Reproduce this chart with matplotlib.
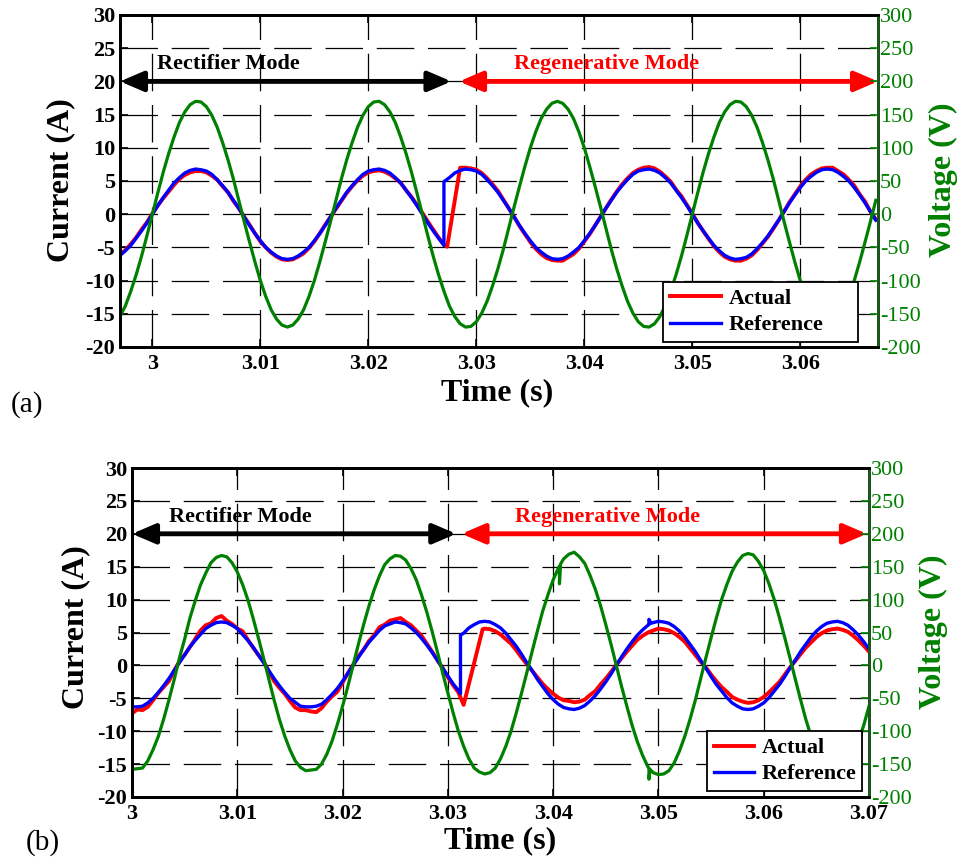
import numpy as np
import matplotlib
matplotlib.use('Agg')
import matplotlib.pyplot as plt
from matplotlib.patches import ArrowStyle

plt.rcParams['font.family'] = ['Liberation Serif', 'DejaVu Serif']

GREEN = '#008000'

# ---- (a) records, 0.5 ms step from 2.997 s ----
t_a = np.round(2.997 + 0.0005 * np.arange(141), 5)

v_a = [-154, -138, -116, -91, -63, -32, 0, 32, 63, 91,
       116, 138, 154, 165, 170, 169, 162, 149, 131, 108,
       82, 53, 21, -11, -42, -72, -100, -124, -144, -158,
       -167, -170, -167, -158, -144, -124, -100, -72, -42, -11,
       21, 53, 82, 108, 131, 149, 162, 169, 170, 165,
       154, 138, 116, 91, 63, 32, 0, -32, -63, -91,
       -116, -138, -154, -165, -170, -169, -162, -149, -131, -108,
       -82, -53, -21, 11, 42, 72, 100, 124, 144, 158,
       167, 170, 167, 158, 144, 124, 100, 72, 42, 11,
       -21, -53, -82, -108, -131, -149, -162, -169, -170, -165,
       -154, -138, -116, -91, -63, -32, 0, 32, 63, 91,
       116, 138, 154, 165, 170, 169, 162, 149, 131, 108,
       82, 53, 21, -11, -42, -72, -100, -124, -144, -158,
       -167, -170, -167, -158, -144, -124, -100, -72, -42, -11,
       21]

ref_a = [-6.2, -5.5, -4.7, -3.6, -2.5, -1.3, 0.0, 1.3, 2.5, 3.6,
         4.7, 5.5, 6.2, 6.6, 6.8, 6.7, 6.5, 6.0, 5.2, 4.3,
         3.3, 2.1, 0.9, -0.4, -1.7, -2.9, -4.0, -5.0, -5.7, -6.3,
         -6.7, -6.8, -6.7, -6.3, -5.7, -5.0, -4.0, -2.9, -1.7, -0.4,
         0.9, 2.1, 3.3, 4.3, 5.2, 6.0, 6.5, 6.7, 6.8, 6.6,
         6.2, 5.5, 4.7, 3.6, 2.5, 1.3, 0.0, -1.3, -2.5, -3.6,
         -4.7, 5.5, 6.2, 6.6, 6.8, 6.7, 6.5, 6.0, 5.2, 4.3,
         3.3, 2.1, 0.9, -0.4, -1.7, -2.9, -4.0, -5.0, -5.7, -6.3,
         -6.7, -6.8, -6.7, -6.3, -5.7, -5.0, -4.0, -2.9, -1.7, -0.4,
         0.9, 2.1, 3.3, 4.3, 5.2, 6.0, 6.5, 6.7, 6.8, 6.6,
         6.2, 5.5, 4.7, 3.6, 2.5, 1.3, 0.0, -1.3, -2.5, -3.6,
         -4.7, -5.5, -6.2, -6.6, -6.8, -6.7, -6.5, -6.0, -5.2, -4.3,
         -3.3, -2.1, -0.9, 0.4, 1.7, 2.9, 4.0, 5.0, 5.7, 6.3,
         6.7, 6.8, 6.7, 6.3, 5.7, 5.0, 4.0, 2.9, 1.7, 0.4,
         -0.9]
ref_a_t_extra = [3.027]
ref_a_extra = [4.9]

act_a = [-6.1, -5.4, -4.5, -3.5, -2.3, -1.2, 0.1, 1.3, 2.4, 3.4,
         4.4, 5.3, 5.9, 6.3, 6.5, 6.5, 6.3, 5.8, 5.2, 4.2,
         3.3, 2.0, 0.9, -0.4, -1.6, -2.9, -4.1, -5.0, -5.8, -6.4,
         -6.8, -6.9, -6.8, -6.4, -5.9, -5.1, -4.1, -2.9, -1.6, -0.4,
         0.8, 2.0, 3.2, 4.2, 5.1, 5.8, 6.3, 6.5, 6.6, 6.4,
         6.0, 5.4, 4.7, 3.6, 2.6, 1.4, 0.2, -1.1, -2.3, -3.5,
         -4.6, -2.9, 2.0, 7.0, 7.0, 6.9, 6.7, 6.2, 5.4, 4.5,
         3.5, 2.2, 0.9, -0.4, -1.8, -3.0, -4.2, -5.2, -6.0, -6.6,
         -6.9, -7.0, -7.0, -6.5, -6.0, -5.2, -4.1, -3.0, -1.7, -0.4,
         0.9, 2.2, 3.4, 4.5, 5.4, 6.2, 6.7, 7.0, 7.1, 6.9,
         6.4, 5.7, 4.9, 3.7, 2.7, 1.4, 0.1, -1.3, -2.5, -3.7,
         -4.8, -5.7, -6.4, -6.8, -7.0, -7.0, -6.7, -6.2, -5.4, -4.4,
         -3.4, -2.2, -0.9, 0.4, 1.8, 3.0, 4.2, 5.2, 6.0, 6.5,
         6.9, 7.0, 7.0, 6.5, 6.0, 5.2, 4.3, 3.0, 1.9, 0.4,
         -0.8]
act_a_t_extra = [3.0273]
act_a_extra = [-4.9]

# ---- (b) records, 0.5 ms step from 3.000 s ----
t_b = np.round(3.000 + 0.0005 * np.arange(141), 5)

v_b = [-158, -157, -156, -145, -128, -108, -82, -53, -22, 11,
       40, 72, 98, 122, 140, 156, 164, 167, 165, 156,
       142, 123, 100, 72, 42, 11, -21, -53, -82, -107,
       -128, -145, -155, -160, -159, -158, -150, -135, -115, -90,
       -62, -32, 0, 32, 62, 90, 115, 136, 153, 162,
       167, 166, 160, 147, 130, 107, 81, 52, 21, -11,
       -42, -72, -100, -123, -142, -156, -162, -165, -163, -156,
       -142, -123, -100, -72, -42, -11, 21, 52, 82, 107,
       130, 148, 162, 169, 172, 165, 155, 137, 116, 91,
       62, 32, 0, -32, -62, -91, -116, -137, -154, -163,
       -166, -165, -160, -148, -130, -108, -82, -53, -21, 11,
       42, 72, 100, 123, 143, 157, 167, 170, 168, 158,
       144, 124, 100, 72, 42, 11, -21, -52, -82, -108,
       -131, -148, -162, -166, -168, -165, -154, -137, -116, -91,
       -62]
v_b_t_extra = [3.0406, 3.0406, 3.0407, 3.0491, 3.0491, 3.0492]
v_b_extra = [151, 124, 154, -156, -173, -158]

ref_b = [-6.3, -6.3, -6.2, -5.7, -5.0, -4.1, -3.1, -2.0, -0.8, 0.4,
         1.6, 2.8, 3.8, 4.7, 5.6, 6.1, 6.5, 6.6, 6.5, 6.1,
         5.6, 4.7, 3.8, 2.8, 1.6, 0.4, -0.8, -2.0, -3.1, -4.1,
         -5.0, -5.6, -6.2, -6.3, -6.3, -6.2, -5.9, -5.2, -4.4, -3.5,
         -2.4, -1.2, 0.0, 1.2, 2.4, 3.5, 4.4, 5.3, 6.0, 6.3,
         6.6, 6.5, 6.3, 5.7, 5.0, 4.1, 3.1, 2.0, 0.8, -0.4,
         -1.6, -2.8, -3.8, 4.9, 5.7, 6.2, 6.6, 6.7, 6.6, 6.2,
         5.7, 4.9, 3.9, 2.9, 1.7, 0.4, -0.8, -2.1, -3.2, -4.3,
         -5.2, -5.9, -6.4, -6.6, -6.7, -6.5, -6.1, -5.4, -4.6, -3.6,
         -2.5, -1.3, 0.0, 1.3, 2.5, 3.6, 4.6, 5.4, 6.1, 6.5,
         6.7, 6.6, 6.4, 5.9, 5.2, 4.3, 3.2, 2.1, 0.8, -0.4,
         -1.7, -2.9, -3.9, -4.9, -5.7, -6.2, -6.6, -6.7, -6.6, -6.2,
         -5.7, -4.9, -3.9, -2.9, -1.7, -0.4, 0.8, 2.1, 3.2, 4.3,
         5.2, 5.9, 6.4, 6.6, 6.7, 6.5, 6.1, 5.4, 4.6, 3.6,
         2.5]
ref_b_t_extra = [3.0312, 3.0312, 3.0491, 3.0491, 3.0493]
ref_b_extra = [-4.3, 4.6, 6.2, 7.0, 6.4]

act_b = [-7.3, -6.7, -6.8, -6.3, -5.3, -4.2, -3.3, -2.4, -0.8, 0.6,
         1.6, 2.8, 4.0, 5.3, 6.1, 6.4, 7.2, 7.5, 6.8, 6.3,
         5.6, 5.2, 3.9, 2.7, 1.6, 0.6, -0.9, -2.4, -3.4, -4.3,
         -5.4, -6.4, -6.8, -6.8, -7.0, -7.1, -6.5, -5.5, -4.7, -4.0,
         -2.6, -1.2, 0.1, 1.4, 2.4, 3.7, 4.6, 5.8, 6.2, 6.8,
         7.0, 7.2, 6.6, 6.1, 5.3, 4.5, 3.3, 2.1, 0.8, -0.4,
         -1.8, -3.0, -4.1, -6.0, -2.8, 0.4, 3.6, 5.6, 5.5, 5.2,
         4.7, 4.0, 3.3, 2.3, 1.2, 0.2, -0.8, -1.8, -2.8, -3.6,
         -4.3, -4.9, -5.3, -5.4, -5.6, -5.5, -5.2, -4.5, -3.9, -2.9,
         -2.0, -1.0, 0.1, 1.1, 2.1, 3.0, 3.9, 4.5, 5.0, 5.3,
         5.6, 5.5, 5.3, 4.9, 4.3, 3.6, 2.6, 1.6, 0.6, -0.3,
         -1.4, -2.4, -3.3, -4.0, -4.8, -5.2, -5.5, -5.7, -5.6, -5.3,
         -4.8, -4.1, -3.3, -2.5, -1.4, -0.3, 0.7, 1.7, 2.7, 3.5,
         4.3, 4.9, 5.3, 5.5, 5.6, 5.4, 5.1, 4.5, 3.8, 3.0,
         2.1]
act_b_t_extra = [3.0333]
act_b_extra = [5.5]

xticks_a = [3.00, 3.01, 3.02, 3.03, 3.04, 3.05, 3.06]
xlabels_a = ['3', '3.01', '3.02', '3.03', '3.04', '3.05', '3.06']
xticks_b = [3.00, 3.01, 3.02, 3.03, 3.04, 3.05, 3.06, 3.07]
xlabels_b = ['3', '3.01', '3.02', '3.03', '3.04', '3.05', '3.06', '3.07']
current_ticks = [-20, -15, -10, -5, 0, 5, 10, 15, 20, 25, 30]
voltage_ticks = [-200, -150, -100, -50, 0, 50, 100, 150, 200, 250, 300]


def merged(t, y, t_extra, y_extra):
    """Slot extra samples (switching edges, spikes) into a fixed-step record."""
    tt = np.concatenate([np.asarray(t, float), np.asarray(t_extra, float)])
    yy = np.concatenate([np.asarray(y, float), np.asarray(y_extra, float)])
    order = np.argsort(tt, kind='stable')
    return tt[order], yy[order]


def mode_arrow(ax, x0, x1, color):
    style = ArrowStyle('<|-|>', head_length=0.7, head_width=0.3)
    ax.annotate('', xy=(x1, 20), xytext=(x0, 20),
                arrowprops=dict(arrowstyle=style, color=color, lw=3.5,
                                mutation_scale=20, shrinkA=0, shrinkB=0),
                annotation_clip=False, zorder=6)


def draw_panel(rect, xlim, xticks, xlabels, act, ref, volt,
               modes, text_pos, leg_box, handlelength):
    ax = fig.add_axes(rect)
    ax2 = ax.twinx()

    la, = ax.plot(*act, color='red', lw=2.8, label='Actual', zorder=3)
    lr, = ax.plot(*ref, color='blue', lw=2.4, label='Reference', zorder=4)
    ax2.plot(*volt, color=GREEN, lw=2.3, zorder=2)

    ax.set_xlim(*xlim)
    ax.set_ylim(-20, 30)
    ax2.set_ylim(-200, 300)
    ax.set_xticks(xticks)
    ax.set_xticklabels(xlabels, fontweight='bold')
    ax.set_yticks(current_ticks)
    ax.set_yticklabels([str(v) for v in current_ticks], fontweight='bold')
    ax2.set_yticks(voltage_ticks)
    ax2.set_yticklabels([str(v) for v in voltage_ticks])

    ax.tick_params(axis='both', direction='in', length=6, width=1.2,
                   labelsize=16, top=True)
    ax.tick_params(axis='x', pad=5)
    ax.tick_params(axis='y', pad=3.5)
    ax2.tick_params(axis='y', direction='in', length=6, width=1.2,
                    labelsize=16, colors=GREEN, pad=1.5)

    ax.grid(True, color='black', lw=0.9, linestyle=(0, (30, 11)))
    for s in ['left', 'bottom', 'top', 'right']:
        ax.spines[s].set_linewidth(2)
        ax2.spines[s].set_linewidth(2)
    ax2.spines['right'].set_color('#1d5a1d')

    # operating mode markers
    (r0, r1), (g0, g1) = modes
    mode_arrow(ax, r0, r1, 'black')
    mode_arrow(ax, g0, g1, 'red')
    ax.text(text_pos[0], 22.6, 'Rectifier Mode', fontsize=16,
            fontweight='bold', color='black', va='center', zorder=6)
    ax.text(text_pos[1], 22.6, 'Regenerative Mode', fontsize=16,
            fontweight='bold', color='red', va='center', zorder=6)

    leg = ax2.legend([la, lr], ['Actual', 'Reference'], loc='lower left',
                     bbox_to_anchor=leg_box, mode='expand',
                     borderaxespad=0, fancybox=False, framealpha=1,
                     edgecolor='black', handlelength=handlelength,
                     handletextpad=0.35, labelspacing=0.25, borderpad=0.3,
                     prop={'weight': 'bold', 'size': 16})
    leg.get_frame().set_linewidth(1.3)
    return ax


W, H = 962, 860
fig = plt.figure(figsize=(W / 100, H / 100), dpi=100)


def fx(px):
    return px / W


def fy(py):
    return 1 - py / H


draw_panel([fx(120), fy(347), fx(758), 332 / H], (2.997, 3.0672),
           xticks_a, xlabels_a,
           merged(t_a, act_a, act_a_t_extra, act_a_extra),
           merged(t_a, ref_a, ref_a_t_extra, ref_a_extra),
           (t_a, v_a),
           [(2.997, 3.0277), (3.0284, 3.0672)], (3.0004, 3.0335),
           (0.7164, 0.015, 0.2573, 0.19), 2.3)

draw_panel([fx(132), fy(797), fx(737), 329 / H], (3.0, 3.07),
           xticks_b, xlabels_b,
           merged(t_b, act_b, act_b_t_extra, act_b_extra),
           merged(t_b, ref_b, ref_b_t_extra, ref_b_extra),
           merged(t_b, v_b, v_b_t_extra, v_b_extra),
           [(3.000, 3.0308), (3.0313, 3.0698)], (3.0035, 3.0364),
           (0.7802, 0.018, 0.2103, 0.188), 1.8)

# axis titles and panel tags
lab = dict(fontsize=23, fontweight='bold', ha='center', va='center')
fig.text(fx(61), fy(180), 'Current (A)', rotation=90, **lab)
fig.text(fx(943), fy(180), 'Voltage (V)', rotation=90, color=GREEN, **lab)
fig.text(fx(497), fy(393), 'Time (s)', **lab)
fig.text(fx(76), fy(627), 'Current (A)', rotation=90, **lab)
fig.text(fx(933), fy(632), 'Voltage (V)', rotation=90, color=GREEN, **lab)
fig.text(fx(500), fy(841), 'Time (s)', **lab)
fig.text(fx(27), fy(405), '(a)', fontsize=21, ha='center', va='center')
fig.text(fx(43), fy(843), '(b)', fontsize=21, ha='center', va='center')

fig.savefig('out.png', dpi=100)
